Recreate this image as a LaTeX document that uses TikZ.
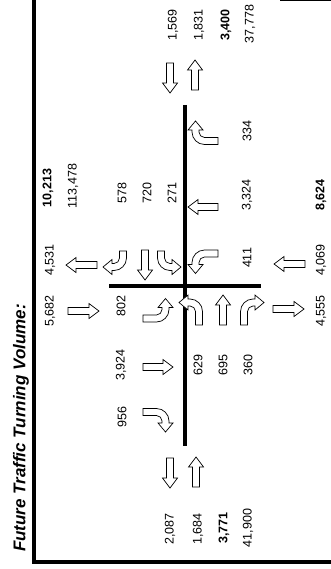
\documentclass[tikz,border=0pt]{standalone}
\usepackage{fontspec}
\setmainfont{Liberation Sans}
\newcommand\numfont{\fontsize{12.5}{14}\selectfont}
% straight block arrow: tail point, direction, perpendicular, length
\newcommand\strarr[4]{%
  \path[blk, shift={#1}, x={#2}, y={#3}]
    (0,-3.5) -- ({#4-10},-3.5) -- ({#4-10},-7.5) -- (#4,0) -- ({#4-10},7.5)
    -- ({#4-10},3.5) -- (0,3.5) -- cycle;}
% turning block arrow: tail point, tail direction, head direction, straight tail length
\newcommand\turnarr[4]{%
  \path[blk, shift={#1}, x={#2}, y={#3}]
    (0,-3.5) -- (#4,-3.5) .. controls ({#4+6.9},-3.5) and ({#4+12.5},2.1) .. ({#4+12.5},9)
    -- ({#4+12.5},11) -- ({#4+16.5},11) -- ({#4+9},20) -- ({#4+1.5},11) -- ({#4+5.5},11)
    -- ({#4+5.5},9) .. controls ({#4+5.5},5.96) and ({#4+3.04},3.5) .. (#4,3.5)
    -- (0,3.5) -- cycle;}
\begin{document}
\begin{tikzpicture}[x=1pt,y=-1pt,
  num/.style={rotate=90,inner sep=0pt,font=\numfont},
  bnum/.style={num,font=\numfont\bfseries},
  blk/.style={draw=black,fill=white,line width=0.7pt,line join=miter},
  road/.style={line width=4pt},
  frameline/.style={line width=4pt,line join=miter}]
\useasboundingbox (0,0) rectangle (331,569);
% frame and title
\draw[frameline] (34,-3) -- (34,561.5) -- (334,561.5);
\draw[line width=1pt] (280,0.5) -- (334,0.5);
\node[rotate=90,inner sep=0pt,font=\fontsize{17}{20}\selectfont\bfseries\itshape] (title) at (21,428) {Future Traffic Turning Volume:};
% roads
\draw[road] (185,105) -- (185,446);
\draw[road] (109,286) -- (261,286);
% straight arrows
\strarr{(170,63)}{(0pt,-1pt)}{(1pt,0pt)}{30}
\strarr{(195,90)}{(0pt,1pt)}{(1pt,0pt)}{30}
\strarr{(170,458)}{(0pt,-1pt)}{(1pt,0pt)}{30}
\strarr{(196,487)}{(0pt,1pt)}{(1pt,0pt)}{30}
\strarr{(97,265)}{(-1pt,0pt)}{(0pt,1pt)}{31}
\strarr{(68,311)}{(1pt,0pt)}{(0pt,1pt)}{31}
\strarr{(305,264)}{(-1pt,0pt)}{(0pt,1pt)}{31}
\strarr{(273,309)}{(1pt,0pt)}{(0pt,1pt)}{31}
\strarr{(143,367)}{(1pt,0pt)}{(0pt,1pt)}{30}
\strarr{(218,207)}{(-1pt,0pt)}{(0pt,1pt)}{30}
\strarr{(145,250)}{(0pt,-1pt)}{(1pt,0pt)}{30}
\strarr{(223,325)}{(0pt,1pt)}{(1pt,0pt)}{30}
% turning arrows
\turnarr{(143,412)}{(1pt,0pt)}{(0pt,-1pt)}{13.5}
\turnarr{(218,141)}{(-1pt,0pt)}{(0pt,1pt)}{13.5}
\turnarr{(218,253.5)}{(-1pt,0pt)}{(0pt,-1pt)}{13.5}
\turnarr{(143,318.5)}{(1pt,0pt)}{(0pt,1pt)}{13.5}
\turnarr{(199,325)}{(0pt,1pt)}{(-1pt,0pt)}{13.5}
\turnarr{(244,325)}{(0pt,1pt)}{(1pt,0pt)}{13.5}
\turnarr{(123,251)}{(0pt,-1pt)}{(-1pt,0pt)}{7}
\turnarr{(161,251)}{(0pt,-1pt)}{(1pt,0pt)}{7}
% numbers: top leg
\node[num] (n1569) at (173,25) {1,569};
\node[num] (n1831) at (199,25) {1,831};
\node[bnum] (n3400) at (226,25) {3,400};
\node[num] (n37778) at (250,24) {37,778};
% bottom leg
\node[num] (n2087) at (170,529) {2,087};
\node[num] (n1684) at (198,529) {1,684};
\node[bnum] (n3771) at (224,528) {3,771};
\node[num] (n41900) at (248,528) {41,900};
% left leg
\node[bnum] (n10213) at (48,188) {10,213};
\node[num] (n113478) at (73,186) {113,478};
\node[num] (n4531) at (50,260) {4,531};
\node[num] (n5682) at (50,311) {5,682};
% right leg
\node[bnum] (n8624) at (321,195) {8,624};
\node[num] (n4069) at (321,260) {4,069};
\node[num] (n4555) at (321,311) {4,555};
% movements
\node[num] (n578) at (122,193) {578};
\node[num] (n720) at (147,193) {720};
\node[num] (n271) at (172,193) {271};
\node[num] (n3324) at (247,195) {3,324};
\node[num] (n334) at (247,131) {334};
\node[num] (n411) at (247,258) {411};
\node[num] (n802) at (121,306) {802};
\node[num] (n3924) at (121,365) {3,924};
\node[num] (n956) at (122,417) {956};
\node[num] (n629) at (198,365) {629};
\node[num] (n695) at (223,365) {695};
\node[num] (n360) at (248,365) {360};
\end{tikzpicture}
\end{document}
